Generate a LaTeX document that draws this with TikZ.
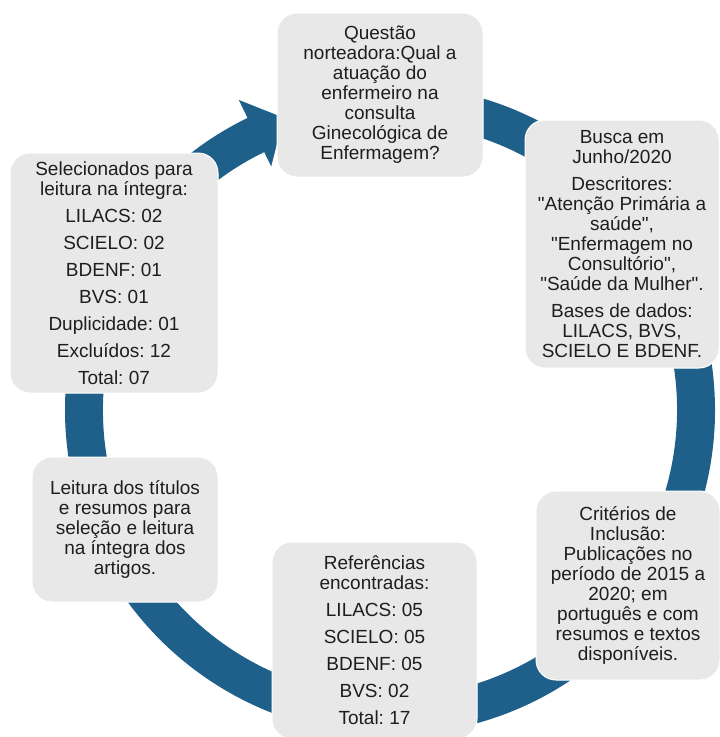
\documentclass[tikz,border=0pt]{standalone}
\usepackage{fontspec}
\setmainfont{Liberation Sans}[Ligatures=TeXOff]
\usetikzlibrary{calc}
\definecolor{ringblue}{RGB}{31,96,139}
\definecolor{boxgray}{RGB}{232,232,232}
\definecolor{txt}{RGB}{30,30,30}
\tikzset{
  cbox/.style={rectangle, rounded corners=20pt, fill=boxgray, draw=white, line width=1pt,
    inner sep=0pt, align=center, text=txt, font=\fontsize{19pt}{20pt}\selectfont\frenchspacing},
}
\begin{document}
\begin{tikzpicture}[x=1pt,y=1pt]
\useasboundingbox (0,0) rectangle (720,-737);
\coordinate (C) at (390,-410);
% ring arrow
\fill[ringblue] ($(C)+(95:325)$) arc[start angle=95, end angle=-244, radius=325pt]
  -- ($(C)+(116:345)$) -- ($(C)+(110:311)$) -- ($(C)+(116:271)$)
  -- ($(C)+(116:287)$) arc[start angle=-244, end angle=95, radius=287pt] -- cycle;
% boxes
\node[cbox, minimum width=206pt, minimum height=164pt] (q1) at (380,-95)
  {Questão\\norteadora:Qual a\\atuação do\\enfermeiro na\\consulta\\Ginecológica de\\Enfermagem?};
\node[cbox, minimum width=194pt, minimum height=248pt] (q2) at (622,-244)
  {Busca em\\Junho/2020\\[7pt]Descritores:\\"Atenção Primária a\\saúde",\\"Enfermagem no\\Consultório",\\"Saúde da Mulher".\\[7pt]Bases de dados:\\LILACS, BVS,\\SCIELO E BDENF.};
\node[cbox, minimum width=184pt, minimum height=189pt] (q3) at (628,-585.5)
  {Critérios de\\Inclusão:\\Publicações no\\período de 2015 a\\2020; em\\português e com\\resumos e textos\\disponíveis.};
\node[cbox, minimum width=205pt, minimum height=197pt] (q4) at (374.5,-640.5)
  {Referências\\encontradas:\\[7pt]LILACS: 05\\[7pt]SCIELO: 05\\[7pt]BDENF: 05\\[7pt]BVS: 02\\[7pt]Total: 17};
\node[cbox, minimum width=186pt, minimum height=145pt] (q5) at (125,-529.5)
  {Leitura dos títulos\\e resumos para\\seleção e leitura\\na íntegra dos\\artigos.};
\node[cbox, minimum width=208pt, minimum height=240pt] (q6) at (114,-273)
  {Selecionados para\\leitura na íntegra:\\[7pt]LILACS: 02\\[7pt]SCIELO: 02\\[7pt]BDENF: 01\\[7pt]BVS: 01\\[7pt]Duplicidade: 01\\[7pt]Excluídos: 12\\[7pt]Total: 07};
\end{tikzpicture}
\end{document}
